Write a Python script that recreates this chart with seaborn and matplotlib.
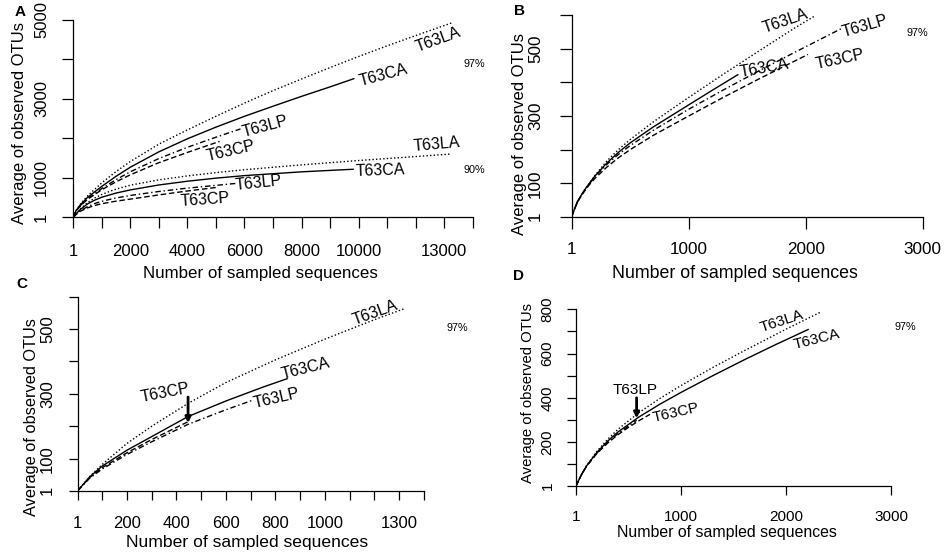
"""
Rarefaction curves (average observed OTUs vs. sampled sequences), four panels.
"""
import matplotlib
matplotlib.use("Agg")
import matplotlib.pyplot as plt
import pandas as pd
import seaborn as sns

# ============================================================
# Data
# ============================================================
# Panel A, 97% similarity
a97_la_x = [1, 100, 250, 500, 1000, 1500, 2000, 3000, 4000, 5000, 6000, 7000, 8000, 9000, 10000, 11000, 12000, 13280]
a97_la_y = [1, 180, 335, 545, 875, 1160, 1415, 1855, 2215, 2560, 2895, 3210, 3505, 3795, 4075, 4345, 4605, 4930]
a97_ca_x = [1, 100, 250, 500, 1000, 1500, 2000, 3000, 4000, 5000, 6000, 7000, 8000, 9000, 9840]
a97_ca_y = [1, 172, 318, 505, 785, 1040, 1270, 1660, 1990, 2285, 2560, 2815, 3065, 3305, 3515]
a97_lp_x = [1, 100, 250, 500, 1000, 1500, 2000, 3000, 4000, 5000, 5860]
a97_lp_y = [1, 165, 300, 470, 730, 955, 1155, 1490, 1775, 2030, 2240]
a97_cp_x = [1, 100, 250, 500, 1000, 1500, 2000, 3000, 4000, 5130]
a97_cp_y = [1, 160, 290, 455, 700, 900, 1078, 1385, 1645, 1924]

# Panel A, 90% similarity
a90_la_x = [1, 100, 250, 500, 750, 1000, 1250, 1500, 2000, 3000, 4000, 5000, 6000, 8000, 10000, 12000, 13240]
a90_la_y = [1, 95, 215, 370, 490, 580, 650, 715, 815, 950, 1050, 1133, 1206, 1330, 1440, 1540, 1605]
a90_ca_x = [1, 100, 250, 500, 750, 1000, 1500, 2000, 3000, 4000, 5000, 6000, 8000, 9820]
a90_ca_y = [1, 90, 200, 340, 435, 510, 615, 695, 820, 915, 993, 1057, 1153, 1219]
a90_lp_x = [1, 100, 250, 500, 750, 1000, 1250, 1500, 2000, 3000, 4000, 5000, 5680]
a90_lp_y = [1, 80, 170, 270, 350, 405, 450, 490, 555, 655, 740, 810, 858]
a90_cp_x = [1, 100, 250, 500, 750, 1000, 1500, 2000, 3000, 4000, 5040]
a90_cp_y = [1, 75, 155, 240, 300, 345, 410, 462, 568, 668, 760]

# Panel B
b_la_x = [1, 25, 50, 100, 150, 200, 300, 400, 500, 700, 1000, 1300, 1600, 1900, 2077]
b_la_y = [1, 24, 46, 75, 100, 124, 166, 200, 230, 283, 355, 425, 493, 560, 597]
b_ca_x = [1, 25, 50, 100, 150, 200, 300, 400, 500, 700, 1000, 1200, 1422]
b_ca_y = [1, 24, 46, 75, 99, 122, 160, 192, 220, 268, 333, 376, 423]
b_lp_x = [1, 25, 50, 100, 150, 200, 300, 400, 500, 700, 1000, 1300, 1600, 1900, 2313]
b_lp_y = [1, 24, 45, 73, 98, 120, 156, 186, 212, 258, 320, 378, 434, 488, 561]
b_cp_x = [1, 25, 50, 100, 150, 200, 300, 400, 500, 700, 1000, 1300, 1600, 2020]
b_cp_y = [1, 23, 44, 72, 95, 115, 148, 176, 200, 243, 300, 356, 410, 483]

# Panel C
c_la_x = [1, 50, 100, 200, 300, 450, 600, 800, 1000, 1200, 1321]
c_la_y = [1, 45, 82, 147, 200, 272, 335, 405, 469, 529, 563]
c_ca_x = [1, 50, 100, 200, 300, 447, 600, 750, 848]
c_ca_y = [1, 44, 77, 126, 168, 230, 278, 321, 347]
c_lp_x = [1, 50, 100, 200, 300, 447, 600, 703]
c_lp_y = [1, 40, 68, 113, 152, 206, 251, 279]
c_cp_x = [1, 50, 100, 200, 300, 447]
c_cp_y = [1, 42, 72, 118, 159, 214]

# Panel D
d_la_x = [1, 50, 100, 200, 300, 400, 600, 800, 1000, 1300, 1600, 2000, 2324]
d_la_y = [1, 50, 92, 158, 211, 257, 333, 397, 455, 536, 612, 710, 786]
d_ca_x = [1, 50, 100, 200, 300, 400, 600, 800, 1000, 1300, 1600, 1900, 2213]
d_ca_y = [1, 50, 91, 153, 203, 245, 313, 371, 424, 499, 571, 640, 709]
d_lp_x = [1, 50, 100, 200, 300, 400, 500, 578]
d_lp_y = [1, 50, 90, 150, 198, 238, 272, 298]
d_cp_x = [1, 50, 100, 200, 300, 400, 500, 600, 705]
d_cp_y = [1, 49, 89, 148, 194, 233, 266, 296, 325]

# Ticks and tick labels
a_xticks = [1, 1000, 2000, 3000, 4000, 5000, 6000, 7000, 8000, 9000, 10000, 11000, 12000, 13000, 14000]
a_xlabels = ["1", "", "2000", "", "4000", "", "6000", "", "8000", "", "10000", "", "", "13000", ""]
a_yticks = [1, 1000, 2000, 3000, 4000, 5000]
a_ylabels = ["1", "1000", "", "3000", "", "5000"]
b_xticks = [1, 1000, 2000, 3000]
b_xlabels = ["1", "1000", "2000", "3000"]
b_yticks = [1, 100, 200, 300, 400, 500, 600]
b_ylabels = ["1", "100", "", "300", "", "500", ""]
c_xticks = [1, 100, 200, 300, 400, 500, 600, 700, 800, 900, 1000, 1100, 1200, 1300, 1400]
c_xlabels = ["1", "", "200", "", "400", "", "600", "", "800", "", "1000", "", "", "1300", ""]
c_yticks = [1, 100, 200, 300, 400, 500, 600]
c_ylabels = ["1", "100", "", "300", "", "500", ""]
d_xticks = [1, 1000, 2000, 3000]
d_xlabels = ["1", "1000", "2000", "3000"]
d_yticks = [1, 100, 200, 300, 400, 500, 600, 700, 800]
d_ylabels = ["1", "", "200", "", "400", "", "600", "", "800"]

# ============================================================
# Style
# ============================================================
sns.set_style("ticks")
plt.rcParams["font.family"] = ["Liberation Sans", "DejaVu Sans"]
plt.rcParams["axes.linewidth"] = 0.9
for key in ["text.color", "axes.labelcolor", "axes.edgecolor", "xtick.color", "ytick.color"]:
    plt.rcParams[key] = "black"

LINESTYLES = {
    "T63LA": (0, (1, 1.6)),
    "T63CA": "-",
    "T63LP": (0, (4, 2, 1, 2)),
    "T63CP": (0, (4, 2)),
}

W, H = 945, 556
fig = plt.figure(figsize=(W / 100, H / 100), dpi=100)
fig.patch.set_facecolor("white")


def add_panel(left, top, right, bottom):
    return fig.add_axes([left / W, 1 - bottom / H, (right - left) / W, (bottom - top) / H])


def ftext(px, py, s, **kw):
    fig.text(px / W, 1 - py / H, s, color="black", **kw)


def draw_curves(ax, curves):
    for name, xs, ys in curves:
        df = pd.DataFrame({"x": xs, "y": ys})
        sns.lineplot(data=df, x="x", y="y", ax=ax, color="black", linewidth=1.0,
                     linestyle=LINESTYLES[name], estimator=None, sort=False)


def setup_axis(ax, xlim, ylim, xt, xl, yt, yl, fs, tlen, xpad, ypad):
    ax.set_xlim(xlim)
    ax.set_ylim(ylim)
    ax.set_xticks(xt)
    ax.set_xticklabels(xl)
    ax.set_yticks(yt)
    ax.set_yticklabels(yl)
    ax.set_xlabel("")
    ax.set_ylabel("")
    sns.despine(ax=ax)
    ax.tick_params(length=tlen, width=0.9, labelsize=fs, colors="black")
    ax.tick_params(axis="x", pad=xpad)
    ax.tick_params(axis="y", pad=ypad, labelrotation=90)
    for t in ax.get_yticklabels():
        t.set_va("center")


def label(ax, s, x, y, rot, fs):
    ax.text(x, y, s, rotation=rot, ha="center", va="center", fontsize=fs,
            color="black", rotation_mode="anchor", clip_on=False)


# ============================================================
# Panel A
# ============================================================
axA = add_panel(73.3, 20, 472.7, 217.3)
draw_curves(axA, [
    ("T63LA", a97_la_x, a97_la_y), ("T63CA", a97_ca_x, a97_ca_y),
    ("T63LP", a97_lp_x, a97_lp_y), ("T63CP", a97_cp_x, a97_cp_y),
    ("T63LA", a90_la_x, a90_la_y), ("T63CA", a90_ca_x, a90_ca_y),
    ("T63LP", a90_lp_x, a90_lp_y), ("T63CP", a90_cp_x, a90_cp_y),
])
setup_axis(axA, (1, 14000), (1, 5000), a_xticks, a_xlabels, a_yticks, a_ylabels,
           12, 8, 11.5, 9.5)
label(axA, "T63LA", 12784, 4489, 20, 11.5)
label(axA, "T63CA", 10886, 3603, 15, 11.5)
label(axA, "T63LP", 6738, 2311, 15, 11.5)
label(axA, "T63CP", 5510, 1684, 13, 11.5)
label(axA, "T63LA", 12749, 1856, 5, 11.5)
label(axA, "T63CA", 10745, 1172, 2, 11.5)
label(axA, "T63LP", 6492, 868, 6, 11.5)
label(axA, "T63CP", 4629, 438, 4, 11.5)

# ============================================================
# Panel B
# ============================================================
axB = add_panel(571.7, 15, 922.7, 216.7)
draw_curves(axB, [
    ("T63LA", b_la_x, b_la_y), ("T63CA", b_ca_x, b_ca_y),
    ("T63LP", b_lp_x, b_lp_y), ("T63CP", b_cp_x, b_cp_y),
])
setup_axis(axB, (1, 3000), (1, 600), b_xticks, b_xlabels, b_yticks, b_ylabels,
           12.3, 8.5, 10, 12)
label(axB, "T63LA", 1823, 583, 19, 11.5)
label(axB, "T63LP", 2507, 567, 16, 11.5)
label(axB, "T63CA", 1644, 442, 10, 11.5)
label(axB, "T63CP", 2294, 468, 12, 11.5)

# ============================================================
# Panel C
# ============================================================
axC = add_panel(77.7, 296.7, 423.9, 490.7)
draw_curves(axC, [
    ("T63LA", c_la_x, c_la_y), ("T63CA", c_ca_x, c_ca_y),
    ("T63LP", c_lp_x, c_lp_y), ("T63CP", c_cp_x, c_cp_y),
])
setup_axis(axC, (1, 1400), (1, 600), c_xticks, c_xlabels, c_yticks, c_ylabels,
           12, 6.7, 11.5, 9.5)
label(axC, "T63LA", 1202, 549, 20, 11.5)
label(axC, "T63CA", 922, 379, 14, 11.5)
label(axC, "T63LP", 805, 286, 13, 11.5)
label(axC, "T63CP", 353, 304, 11, 11.5)
axC.annotate("", xy=(447, 210), xytext=(447, 290),
             arrowprops=dict(arrowstyle="-|>", color="black", lw=2,
                             mutation_scale=8, shrinkA=0, shrinkB=0))

# ============================================================
# Panel D
# ============================================================
axD = add_panel(576, 309.3, 891, 486)
draw_curves(axD, [
    ("T63LA", d_la_x, d_la_y), ("T63CA", d_ca_x, d_ca_y),
    ("T63LP", d_lp_x, d_lp_y), ("T63CP", d_cp_x, d_cp_y),
])
setup_axis(axD, (1, 3000), (1, 800), d_xticks, d_xlabels, d_yticks, d_ylabels,
           11, 6.5, 11, 9)
label(axD, "T63LA", 1959, 744, 18, 11)
label(axD, "T63CA", 2292, 664, 14, 11)
label(axD, "T63LP", 565, 436, 0, 11)
label(axD, "T63CP", 950, 332, 13, 11)
axD.annotate("", xy=(578, 307), xytext=(578, 400),
             arrowprops=dict(arrowstyle="-|>", color="black", lw=2,
                             mutation_scale=8, shrinkA=0, shrinkB=0))

# ============================================================
# Axis titles, panel letters, similarity levels
# ============================================================
ylab = "Average of observed OTUs"
xlab = "Number of sampled sequences"
ftext(20, 123, ylab, rotation=90, ha="center", va="center", fontsize=12)
ftext(520, 134, ylab, rotation=90, ha="center", va="center", fontsize=12)
ftext(32, 417, ylab, rotation=90, ha="center", va="center", fontsize=11.8)
ftext(528, 393, ylab, rotation=90, ha="center", va="center", fontsize=10.7)
ftext(260, 273, xlab, ha="center", va="center", fontsize=12.2)
ftext(735, 273, xlab, ha="center", va="center", fontsize=12.8)
ftext(247, 543, xlab, ha="center", va="center", fontsize=12.6)
ftext(727, 533, xlab, ha="center", va="center", fontsize=11.4)

for letter, px, py in [("A", 20, 12), ("B", 520, 11), ("C", 22, 284), ("D", 519, 276)]:
    ftext(px, py, letter, ha="center", va="center", fontsize=11, fontweight="bold")

for txt, px, py in [("97%", 474, 64), ("90%", 474, 170), ("97%", 917, 33),
                    ("97%", 457, 328), ("97%", 905, 327)]:
    ftext(px, py, txt, ha="center", va="center", fontsize=7.8)

fig.savefig("out.png", dpi=100, facecolor="white")
plt.close(fig)
